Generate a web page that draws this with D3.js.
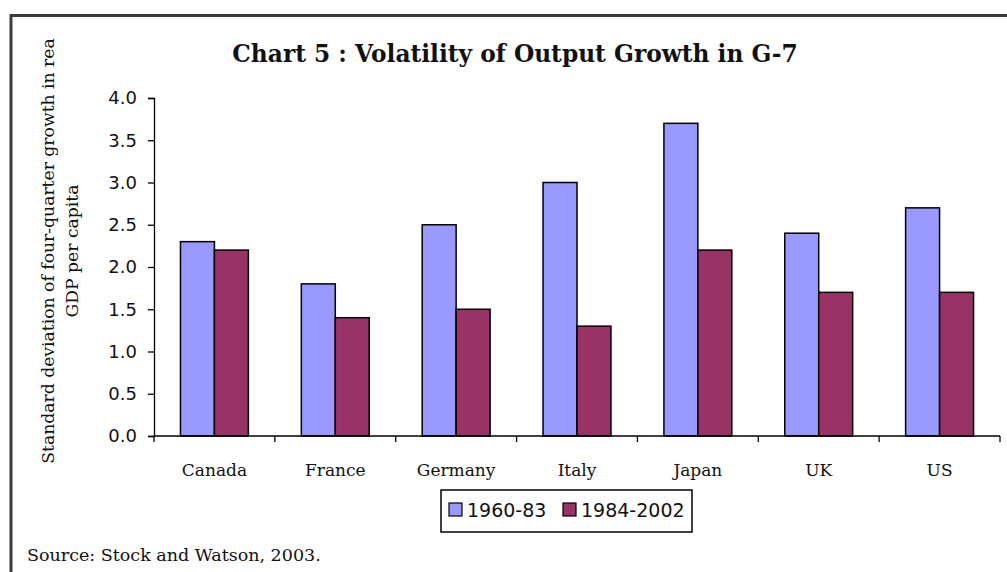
<!DOCTYPE html>
<html>
<head>
<meta charset="utf-8">
<script src="https://cdn.jsdelivr.net/npm/d3@7"></script>
<style>
  body { margin: 0; background: #fff; }
  svg { display: block; }
</style>
</head>
<body>
<svg width="1007" height="572" viewBox="0 0 1007 572"></svg>
<script>
const countries = ["Canada", "France", "Germany", "Italy", "Japan", "UK", "US"];
const periods = ["1960-83", "1984-2002"];
const early = [2.3, 1.8, 2.5, 3.0, 3.7, 2.4, 2.7];
const late = [2.2, 1.4, 1.5, 1.3, 2.2, 1.7, 1.7];
const yTicks = [0, 0.5, 1, 1.5, 2, 2.5, 3, 3.5, 4];

const colors = { "1960-83": "#9999ff", "1984-2002": "#993366" };
const serif = "'DejaVu Serif', Georgia, serif";
const sans = "'DejaVu Sans', Verdana, sans-serif";

const svg = d3.select("svg");

// outer frame (runs off the right and bottom of the picture)
svg.append("rect")
    .attr("x", 11).attr("y", 15.5)
    .attr("width", 1100).attr("height", 700)
    .attr("fill", "none")
    .attr("stroke", "#3c3c3c")
    .attr("stroke-width", 3);

const x0 = d3.scaleBand().domain(countries).range([154, 1000]);
const x1 = d3.scaleBand().domain(periods).range([0, x0.bandwidth()]).paddingOuter(0.78);
const y = d3.scaleLinear().domain([0, 4]).range([436, 98]);

const rows = countries.map((c, i) => ({ country: c, values: [early[i], late[i]] }));

const groups = svg.append("g").selectAll("g")
    .data(rows)
    .join("g")
    .attr("transform", d => `translate(${x0(d.country)},0)`);

groups.selectAll("rect")
    .data(d => d.values.map((v, j) => ({ period: periods[j], value: v })))
    .join("rect")
    .attr("x", d => x1(d.period))
    .attr("y", d => y(d.value))
    .attr("width", x1.bandwidth())
    .attr("height", d => y(0) - y(d.value))
    .attr("fill", d => colors[d.period])
    .attr("stroke", "#000")
    .attr("stroke-width", 1.5);

// y axis
const yAxis = svg.append("g")
    .attr("transform", "translate(154,0)")
    .call(d3.axisLeft(y).tickValues(yTicks).tickFormat(d3.format(".1f")).tickSize(6).tickPadding(11));
yAxis.select(".domain").attr("stroke", "#000").attr("stroke-width", 1.3);
yAxis.selectAll(".tick line").attr("stroke", "#000").attr("stroke-width", 1.3);
yAxis.selectAll("text")
    .attr("font-family", sans)
    .attr("font-size", 18)
    .attr("fill", "#111");

// x axis with ticks between categories
const xAxis = svg.append("g")
    .attr("transform", "translate(0,436)");
xAxis.append("line")
    .attr("x1", 154).attr("x2", 1000)
    .attr("stroke", "#000").attr("stroke-width", 1.3);
const bounds = countries.map(c => x0(c)).concat([x0.range()[1]]);
xAxis.selectAll(".xt")
    .data(bounds)
    .join("line")
    .attr("class", "xt")
    .attr("x1", d => d).attr("x2", d => d)
    .attr("y1", 0).attr("y2", 6)
    .attr("stroke", "#000").attr("stroke-width", 1.3);
xAxis.selectAll(".xl")
    .data(countries)
    .join("text")
    .attr("class", "xl")
    .attr("x", d => x0(d) + x0.bandwidth() / 2)
    .attr("y", 40)
    .attr("text-anchor", "middle")
    .attr("font-family", serif)
    .attr("font-size", 17)
    .attr("fill", "#111")
    .text(d => d);

// title
svg.append("text")
    .attr("x", 515).attr("y", 62)
    .attr("text-anchor", "middle")
    .attr("font-family", serif)
    .attr("font-weight", "bold")
    .attr("font-size", 23.3)
    .attr("fill", "#111")
    .text("Chart 5 : Volatility of Output Growth in G-7");

// y label, two lines
const yl = svg.append("text")
    .attr("transform", "translate(0,251) rotate(-90)")
    .attr("text-anchor", "middle")
    .attr("font-family", serif)
    .attr("font-size", 17.2)
    .attr("fill", "#111");
yl.append("tspan").attr("x", 0).attr("y", 54).text("Standard deviation of four-quarter growth in rea");
yl.append("tspan").attr("x", 0).attr("y", 78).text("GDP per capita");

// legend
const lg = svg.append("g").attr("transform", "translate(441,490)");
lg.append("rect")
    .attr("width", 251).attr("height", 42)
    .attr("fill", "#fff").attr("stroke", "#000").attr("stroke-width", 1.5);
const items = lg.selectAll(".item")
    .data(periods)
    .join("g")
    .attr("class", "item")
    .attr("transform", (d, i) => `translate(${i === 0 ? 8 : 122},0)`);
items.append("rect")
    .attr("y", 13).attr("width", 13).attr("height", 13)
    .attr("fill", d => colors[d])
    .attr("stroke", "#000").attr("stroke-width", 1.2);
items.append("text")
    .attr("x", 18).attr("y", 27)
    .attr("font-family", sans)
    .attr("font-size", 19)
    .attr("fill", "#111")
    .text(d => d);

// source note
svg.append("text")
    .attr("x", 27).attr("y", 561)
    .attr("font-family", serif)
    .attr("font-size", 17.5)
    .attr("fill", "#111")
    .text("Source: Stock and Watson, 2003.");
</script>
</body>
</html>
